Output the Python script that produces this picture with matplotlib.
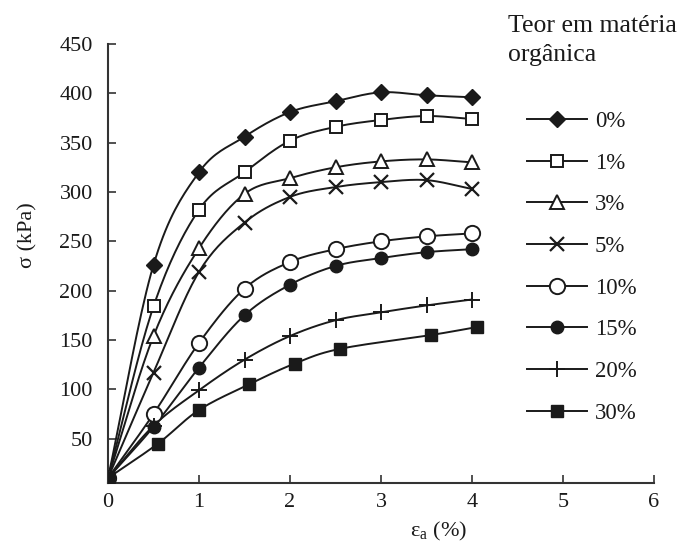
import numpy as np
import matplotlib
matplotlib.use("Agg")
import matplotlib.pyplot as plt

plt.rcParams['font.family'] = ['Liberation Serif', 'DejaVu Serif']
plt.rcParams['mathtext.fontset'] = 'custom'
plt.rcParams['mathtext.rm'] = 'Liberation Serif'

# strain (%) at each reading
strain = [0, 0.5, 1, 1.5, 2, 2.5, 3, 3.5, 4]
strain_30 = [0, 0.55, 1.0, 1.55, 2.05, 2.55, 3.55, 4.05]

# stress (kPa) for each organic matter content
s_0 = [10, 226, 320, 356, 381, 392, 401, 398, 396]
s_1 = [10, 184, 282, 320, 352, 366, 373, 377, 374]
s_3 = [10, 154, 243, 298, 314, 325, 331, 333, 330]
s_5 = [10, 117, 219, 269, 295, 305, 310, 312, 303]
s_10 = [10, 75, 147, 202, 229, 242, 250, 255, 258]
s_15 = [10, 62, 122, 175, 206, 225, 233, 239, 242]
s_20 = [10, 63, 99, 130, 154, 170, 178, 185, 191]
s_30 = [10, 45, 79, 105, 126, 141, 155, 163]

labels = ["0%", "1%", "3%", "5%", "10%", "15%", "20%", "30%"]

ink = "#1a1a1a"


def smooth(x, y, n=20):
    # catmull-rom curve through the points, like the excel "smoothed line"
    x = np.asarray(x, float)
    y = np.asarray(y, float)
    px = np.concatenate([[2 * x[0] - x[1]], x, [2 * x[-1] - x[-2]]])
    py = np.concatenate([[2 * y[0] - y[1]], y, [2 * y[-1] - y[-2]]])
    t = np.linspace(0, 1, n)
    xs, ys = [], []
    for i in range(1, len(px) - 2):
        for p, out in ((px, xs), (py, ys)):
            p0, p1, p2, p3 = p[i - 1], p[i], p[i + 1], p[i + 2]
            out.extend(0.5 * (2 * p1 + (-p0 + p2) * t
                              + (2 * p0 - 5 * p1 + 4 * p2 - p3) * t ** 2
                              + (-p0 + 3 * p1 - 3 * p2 + p3) * t ** 3))
    return xs, ys


series = [
    (strain, s_0, dict(marker="D", ms=8, mfc=ink, mec=ink)),
    (strain, s_1, dict(marker="s", ms=9, mfc="white", mec=ink, mew=1.4)),
    (strain, s_3, dict(marker="^", ms=10, mfc="white", mec=ink, mew=1.4)),
    (strain, s_5, dict(marker="x", ms=10, mec=ink, mew=1.6)),
    (strain, s_10, dict(marker="o", ms=11, mfc="white", mec=ink, mew=1.4)),
    (strain, s_15, dict(marker="o", ms=9, mfc=ink, mec=ink)),
    (strain, s_20, dict(marker="+", ms=12, mec=ink, mew=1.4)),
    (strain_30, s_30, dict(marker="s", ms=8, mfc=ink, mec=ink)),
]

fig = plt.figure(figsize=(6.8, 5.49), dpi=100)
ax = fig.add_axes([108 / 680, 1 - 483 / 549, 546 / 680, 439 / 549])

handles = []
for (x, y, style), lab in zip(series, labels):
    xs, ys = smooth(x, y)
    ax.plot(xs, ys, color=ink, lw=1.4, zorder=2)
    ax.plot(x, y, ls="none", zorder=3, **style)
    h, = ax.plot([], [], color=ink, lw=1.4, **style)
    h.set_label(lab)
    handles.append(h)

ax.set_xlim(0, 6)
ax.set_ylim(5, 450)
ax.set_xticks(range(7))
ax.set_yticks(range(50, 451, 50))
ax.spines['top'].set_visible(False)
ax.spines['right'].set_visible(False)
for s in ('left', 'bottom'):
    ax.spines[s].set_color("#333333")
    ax.spines[s].set_linewidth(1.5)
ax.tick_params(direction="in", length=6, width=1.2, color="#333333",
               labelsize=16, labelcolor=ink)
ax.tick_params(axis="x", pad=7)
ax.tick_params(axis="y", pad=11)

ax.set_xlabel(r"ε$_\mathregular{a}$ (%)", fontsize=16, color=ink, va="center")
ax.xaxis.set_label_coords(0.605, -0.11)
ax.set_ylabel("σ (kPa)", fontsize=16, color=ink, va="center")
ax.yaxis.set_label_coords(-0.147, 0.565)

fig.text(508 / 680, 1 - 26 / 549, "Teor em matéria", fontsize=18.5,
         color=ink, ha="left", va="center")
fig.text(508 / 680, 1 - 55 / 549, "orgânica", fontsize=18.5,
         color=ink, ha="left", va="center")

ax.legend(handles=handles, loc="upper left",
          bbox_to_anchor=(527 / 680, 1 - 111 / 549),
          bbox_transform=fig.transFigure, frameon=False, fontsize=16.5,
          handlelength=2.62, handletextpad=0.35, labelspacing=0.9,
          borderpad=0, borderaxespad=0, labelcolor=ink)

fig.savefig("out.png", dpi=100)
